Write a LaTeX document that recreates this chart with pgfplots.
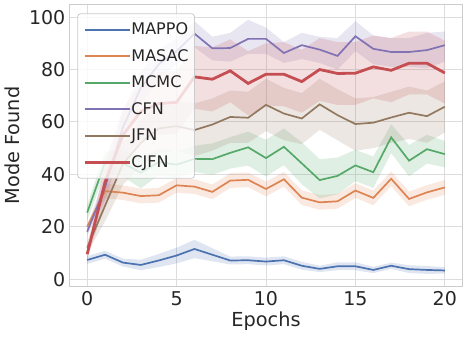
\documentclass[border=0pt]{standalone}
\usepackage{pgfplots}
\pgfplotsset{compat=1.18}
\usepackage{pgfplotstable}
\usepgfplotslibrary{fillbetween}
\usepackage{fontspec}
\setmainfont{DejaVu Sans}
\definecolor{cmappo}{RGB}{76,114,176}
\definecolor{cmasac}{RGB}{221,132,82}
\definecolor{cmcmc}{RGB}{85,168,104}
\definecolor{ccfn}{RGB}{129,114,179}
\definecolor{cjfn}{RGB}{147,120,96}
\definecolor{ccjfn}{RGB}{196,78,82}
\definecolor{txt}{RGB}{38,38,38}
\definecolor{gridc}{RGB}{221,221,221}
\definecolor{framec}{RGB}{204,204,204}

\pgfplotstableread{
x m lo hi
0 7.3 5.8 8.8
1 9.3 7.8 10.8
2 6.3 4.8 7.8
3 5.4 3.4 7.4
4 7.1 4.6 9.6
5 9.0 6.0 12.0
6 11.5 8.0 15.0
7 9.3 6.8 11.8
8 7.1 5.6 8.6
9 7.2 5.7 8.7
10 6.7 5.2 8.2
11 7.2 5.7 8.7
12 5.1 3.6 6.6
13 3.9 2.7 5.1
14 4.9 3.4 6.4
15 4.9 3.4 6.4
16 3.5 2.3 4.7
17 5.1 3.9 6.3
18 3.8 2.3 5.3
19 3.5 2.0 5.0
20 3.3 2.1 4.5
}\tMAPPO

\pgfplotstableread{
x m lo hi
0 20.0 19.0 21.0
1 33.6 30.8 36.4
2 33.0 30.2 35.8
3 31.7 28.9 34.5
4 32.0 29.2 34.8
5 35.8 33.0 38.6
6 35.3 32.5 38.1
7 33.3 30.5 36.1
8 37.6 34.8 40.4
9 37.9 35.1 40.7
10 34.4 31.6 37.2
11 38.1 35.3 40.9
12 31.1 28.3 33.9
13 29.3 26.5 32.1
14 29.7 26.9 32.5
15 33.8 31.0 36.6
16 31.0 28.2 33.8
17 38.3 35.5 41.1
18 30.6 27.8 33.4
19 33.1 30.3 35.9
20 35.0 32.2 37.8
}\tMASAC

\pgfplotstableread{
x m lo hi
0 25.4 22.4 28.4
1 44.6 40.6 48.6
2 44.2 39.2 49.2
3 40.6 34.6 46.6
4 44.7 39.7 49.7
5 43.7 38.7 48.7
6 45.9 40.9 50.9
7 45.8 39.8 51.8
8 48.2 42.2 54.2
9 50.3 43.3 56.3
10 46.2 39.2 53.2
11 50.5 43.5 57.5
12 44.2 36.2 52.2
13 37.8 30.8 45.8
14 39.4 32.4 46.4
15 43.4 37.4 49.4
16 40.8 34.8 46.8
17 54.1 48.1 59.1
18 45.2 39.2 51.2
19 49.6 44.1 55.1
20 47.7 42.7 52.7
}\tMCMC

\pgfplotstableread{
x m lo hi
0 18.1 16.6 19.6
1 35.0 30.0 40.0
2 58.0 52.0 64.0
3 73.0 67.0 79.0
4 82.0 76.5 87.5
5 87.0 82.0 92.0
6 93.7 88.5 98.5
7 88.1 83.5 92.5
8 88.2 83.0 94.0
9 91.7 86.0 99.0
10 91.7 86.0 96.0
11 86.3 82.5 90.5
12 89.3 84.0 94.0
13 87.6 82.5 92.5
14 85.2 80.0 92.0
15 92.7 87.0 98.5
16 87.9 82.0 93.0
17 86.7 81.0 92.0
18 86.7 81.0 92.0
19 87.4 80.5 94.0
20 89.3 83.0 94.5
}\tCFN

\pgfplotstableread{
x m lo hi
0 12.0 10.0 14.0
1 28.0 22.0 34.0
2 44.0 36.0 52.0
3 52.0 43.0 61.0
4 57.5 48.0 67.0
5 58.4 49.0 68.0
6 56.9 47.0 67.0
7 59.0 49.0 69.0
8 61.9 52.0 72.0
9 61.6 52.0 71.5
10 66.5 56.5 76.5
11 63.2 53.0 73.0
12 61.3 51.5 71.0
13 66.7 57.0 76.5
14 62.6 53.0 72.5
15 59.2 49.0 69.0
16 59.7 50.0 69.5
17 61.7 52.0 71.5
18 63.5 53.5 73.5
19 62.2 52.0 72.0
20 65.8 56.0 75.5
}\tJFN

\pgfplotstableread{
x m lo hi
0 9.5 7.5 11.5
1 37.0 29.0 45.0
2 55.0 45.0 65.0
3 64.0 53.0 75.0
4 67.0 55.0 79.0
5 67.5 55.5 79.5
6 77.2 65.0 89.0
7 76.3 64.0 88.5
8 79.5 67.5 91.5
9 74.7 62.5 87.0
10 78.2 66.0 90.0
11 78.2 66.0 90.5
12 75.4 63.5 87.5
13 80.0 68.0 92.0
14 78.5 66.5 90.5
15 78.6 66.5 90.5
16 81.0 69.0 93.0
17 79.7 67.5 92.0
18 82.4 70.5 94.5
19 82.4 70.5 94.5
20 78.7 67.0 91.0
}\tCJFN

\newcommand{\band}[2]{%
  \addplot[draw=none, forget plot, name path=#2hi] table[x=x,y=hi] {#1};
  \addplot[draw=none, forget plot, name path=#2lo] table[x=x,y=lo] {#1};
  \addplot[fill=c#2, fill opacity=0.18, draw=none, forget plot] fill between[of=#2hi and #2lo];
}

\begin{document}
\begin{tikzpicture}
\begin{axis}[
  scale only axis,
  width=393.4pt, height=282.4pt,
  xmin=-1, xmax=21, ymin=-2.9, ymax=104.9,
  xtick={0,5,10,15,20}, ytick={0,20,40,60,80,100},
  major tick length=0pt,
  grid=major,
  major grid style={draw=gridc, line width=0.9pt},
  axis line style={draw=framec, line width=1.1pt},
  /pgf/number format/assume math mode=true,
  tick label style={font=\fontsize{19}{19}\selectfont, text=txt},
  xticklabel style={yshift=-1.5pt},
  yticklabel style={xshift=-0.5pt},
  label style={font=\fontsize{19.3}{19.3}\selectfont, text=txt},
  xlabel={Epochs},
  ylabel={Mode Found},
  xlabel style={yshift=1pt},
  ylabel style={yshift=2pt},
  legend cell align=left,
  legend style={at={(0.0203,0.968)}, anchor=north west,
    fill=white, fill opacity=0.8, text opacity=1, draw opacity=1,
    draw=framec, rounded corners=3pt, line width=0.8pt,
    font=\fontsize{16}{16}\selectfont, text=txt,
    row sep=2.5pt, inner xsep=6pt, inner ysep=4pt,
    nodes={inner sep=0pt, minimum height=24pt}},
  legend image code/.code={\draw[#1] (0pt,0pt) -- (34pt,0pt); \path (0pt,0pt) -- (45pt,0pt);},
]
\band{\tMAPPO}{mappo}
\band{\tMASAC}{masac}
\band{\tMCMC}{mcmc}
\band{\tCFN}{cfn}
\band{\tJFN}{jfn}
\band{\tCJFN}{cjfn}

\addplot[cmappo, line width=1.7pt] table[x=x,y=m] {\tMAPPO};
\addlegendentry{MAPPO}
\addplot[cmasac, line width=1.7pt] table[x=x,y=m] {\tMASAC};
\addlegendentry{MASAC}
\addplot[cmcmc, line width=1.7pt] table[x=x,y=m] {\tMCMC};
\addlegendentry{MCMC}
\addplot[ccfn, line width=1.7pt] table[x=x,y=m] {\tCFN};
\addlegendentry{CFN}
\addplot[cjfn, line width=1.7pt] table[x=x,y=m] {\tJFN};
\addlegendentry{JFN}
\addplot[ccjfn, line width=2.8pt] table[x=x,y=m] {\tCJFN};
\addlegendentry{CJFN}
\end{axis}
\path (current axis.south west) ++(-69.3pt,-51.3pt) rectangle ++(468pt,338pt);
\end{tikzpicture}
\end{document}
